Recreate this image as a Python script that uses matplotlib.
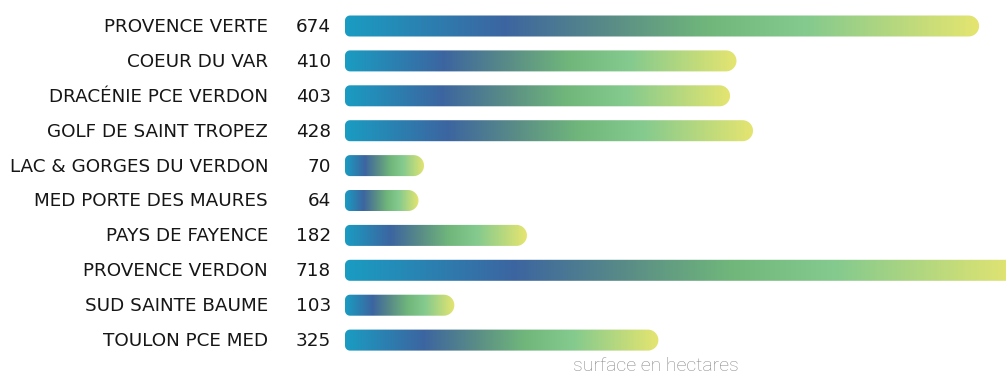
import numpy as np
import matplotlib
matplotlib.use("Agg")
import matplotlib.pyplot as plt
from matplotlib.colors import LinearSegmentedColormap
from matplotlib.patches import PathPatch
from matplotlib.path import Path

# data
regions = ["PROVENCE VERTE", "COEUR DU VAR", "DRACÉNIE PCE VERDON",
           "GOLF DE SAINT TROPEZ", "LAC & GORGES DU VERDON",
           "MED PORTE DES MAURES", "PAYS DE FAYENCE", "PROVENCE VERDON",
           "SUD SAINTE BAUME", "TOULON PCE MED"]
surfaces = [674, 410, 403, 428, 70, 64, 182, 718, 103, 325]
axis_title = "surface en hectares"

# gradient used inside every bar
cmap = LinearSegmentedColormap.from_list("bar", [
    (0.00, "#1a9cc2"),
    (0.25, "#3c65a0"),
    (0.42, "#5a8d86"),
    (0.57, "#70b67b"),
    (0.73, "#85ca8e"),
    (1.00, "#e5e570"),
])

W, H = 1006, 376
fig = plt.figure(figsize=(W / 100, H / 100), dpi=100)
x0_px = 345
ax = fig.add_axes([x0_px / W, 0, (W - x0_px) / W, 1])
px_per_unit = 0.919
ax.set_xlim(0, (W - x0_px) / px_per_unit)
row_px = 34.9
top_px = 26
ax.set_ylim((H - top_px) / row_px, -top_px / row_px)
ax.axis("off")

cap_px = 14.7      # extra length of the rounded end
bar_h = 21         # bar height in pixels
r_left = 5
r_right = bar_h / 2


def bar_path(xa, xb, yc):
    """rounded bar outline in display pixels (y up)"""
    top, bot = yc + bar_h / 2, yc - bar_h / 2
    pts = []
    # right semicircle, bottom to top
    for a in np.linspace(-np.pi / 2, np.pi / 2, 30):
        pts.append((xb - r_right + r_right * np.cos(a), yc + r_right * np.sin(a)))
    # top left corner
    for a in np.linspace(np.pi / 2, np.pi, 10):
        pts.append((xa + r_left + r_left * np.cos(a), top - r_left + r_left * np.sin(a)))
    # bottom left corner
    for a in np.linspace(np.pi, 1.5 * np.pi, 10):
        pts.append((xa + r_left + r_left * np.cos(a), bot + r_left + r_left * np.sin(a)))
    pts.append(pts[0])
    return Path(pts, closed=True)


label_font = dict(fontsize=13.2, fontfamily="DejaVu Sans", fontweight="normal",
                  color="#161616", annotation_clip=False)

grad = np.linspace(0, 1, 256).reshape(1, -1)
for i, (name, val) in enumerate(zip(regions, surfaces)):
    xa, yc = ax.transData.transform((0, i))
    xb = ax.transData.transform((val, i))[0] + cap_px
    patch = PathPatch(bar_path(xa, xb, yc), transform=None,
                      facecolor="none", edgecolor="none")
    fig.add_artist(patch)
    x_end = val + cap_px / px_per_unit
    im = ax.imshow(grad, cmap=cmap, aspect="auto",
                   extent=(0, x_end, i + 0.35, i - 0.35),
                   interpolation="bilinear")
    im.set_clip_path(patch)

    ax.annotate(name, xy=(0, i), xytext=(-77, -1), textcoords="offset pixels",
                ha="right", va="center", **label_font)
    ax.annotate(str(val), xy=(0, i), xytext=(-14, -1), textcoords="offset pixels",
                ha="right", va="center", **label_font)

fig.text(656 / W, 1 - 375 / H, axis_title, ha="center", va="bottom",
         fontsize=14, fontfamily="Roboto", fontweight="light", color="#888888")

fig.savefig("out.png", dpi=100)
